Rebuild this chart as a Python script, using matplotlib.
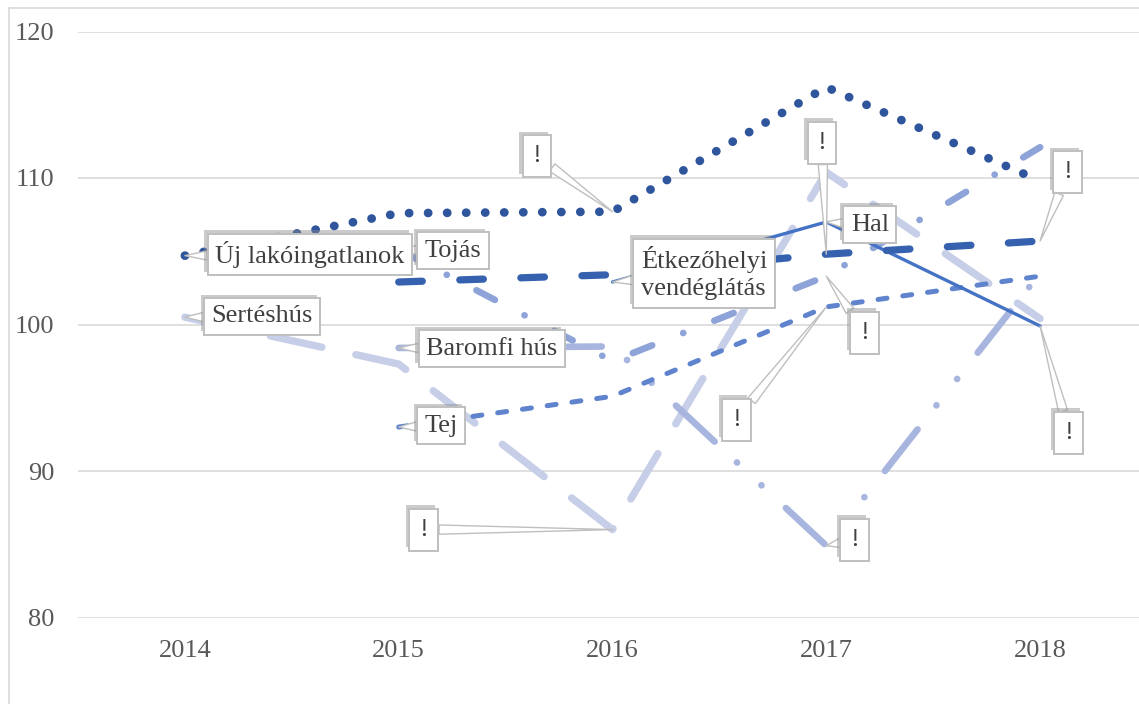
import numpy as np
import matplotlib
matplotlib.use("Agg")
import matplotlib.pyplot as plt
import matplotlib.patheffects as pe
from matplotlib.lines import Line2D

plt.rcParams['font.family'] = ['Liberation Serif', 'DejaVu Serif']
plt.rcParams['lines.scale_dashes'] = False

# Data (price indices)
years = ['2014', '2015', '2016', '2017', '2018']
nan = np.nan
uj_lakoingatlanok = [104.7, 107.6, 107.7, 116.2, 109.8]
hal = [nan, 102.9, 103.4, 104.8, 105.7]
etkezohelyi = [nan, nan, 102.9, 107.0, 99.9]
tej = [nan, 93.0, 95.1, 101.2, 103.3]
tojas = [nan, 105.1, 97.5, 103.3, 112.1]
baromfi_hus = [nan, 98.4, 98.5, 84.9, 103.5]
serteshus = [100.5, 97.3, 86.0, 110.4, 100.4]
y_ticks = [80, 90, 100, 110, 120]

fig = plt.figure(figsize=(11.39, 7.04), dpi=100)
ax = fig.add_axes([78 / 1139, 1 - 617.5 / 704, 1069 / 1139, 586 / 704])

x = np.arange(len(years))

# back to front
series = [
    (serteshus, '#C6CEE8', 5.3, (0, (38, 25))),
    (baromfi_hus, '#A8B6DF', 4.8, (0, (38, 22, 0.1, 24, 0.1, 24))),
    (tojas, '#8EA3D8', 4.8, (0, (15, 24, 0.1, 24))),
    (tej, '#5F83CD', 3.6, (0, (6.5, 11.5))),
    (etkezohelyi, '#4472C4', 2.4, '-'),
    (hal, '#3561AE', 5.2, (0, (17, 27))),
    (uj_lakoingatlanok, '#2F559D', 6.3, (0, (0.1, 13.6))),
]
for i, (vals, col, lw, ls) in enumerate(series):
    ax.plot(x, vals, color=col, lw=lw, linestyle=ls, dash_capstyle='round',
            solid_capstyle='round', dash_joinstyle='round',
            solid_joinstyle='round', zorder=3 + i)

ax.set_xlim(-0.5, 4.5)
ax.set_ylim(80, 120)
ax.set_xticks(x)
ax.set_xticklabels(years)
ax.set_yticks(y_ticks)
ax.tick_params(axis='both', length=0, labelsize=19, labelcolor='#595959')
ax.tick_params(axis='y', pad=17)
ax.tick_params(axis='x', pad=16)
ax.grid(axis='y', color='#D9D9D9', lw=1.2)
ax.set_axisbelow(True)
for s in ax.spines.values():
    s.set_visible(False)

shadow = [pe.SimplePatchShadow(offset=(-2.5, 2.5), shadow_rgbFace='#8C8C8C', alpha=0.45),
          pe.Normal()]


def callout(text, vals, i, tx, ty, z=20, pad=0.28, **kw):
    ann = ax.annotate(text, xy=(i, vals[i]), xytext=(tx, ty), textcoords='data',
                      ha='center', va='center', fontsize=19, color='#404040', zorder=z,
                      bbox=dict(boxstyle=f'square,pad={pad}', fc='white', ec='#BFBFBF', lw=1.4),
                      arrowprops=dict(arrowstyle='wedge,tail_width=0.35,shrink_factor=0.5',
                                      fc='white', ec='#BFBFBF', lw=1.0,
                                      shrinkA=0, shrinkB=0),
                      **kw)
    ann.get_bbox_patch().set_path_effects(shadow)
    return ann


# series name labels
callout('Tojás', tojas, 1, 1.254, 105.05, z=20)
callout('Új lakóingatlanok', uj_lakoingatlanok, 0, 0.585, 104.78, z=21)
callout('Sertéshús', serteshus, 0, 0.361, 100.55)
callout('Baromfi hús', baromfi_hus, 1, 1.436, 98.36)
callout('Tej', tej, 1, 1.198, 93.1)
callout('Étkezőhelyi\nvendéglátás', etkezohelyi, 2, 2.428, 103.5,
        multialignment='left', linespacing=1.3)
callout('Hal', etkezohelyi, 3, 3.204, 106.8)

# "!" callouts
bang = dict(pad=0.38)
callout('!', uj_lakoingatlanok, 2, 1.647, 111.47, **bang)
callout('!', hal, 3, 2.98, 112.4, **bang)
callout('!', hal, 4, 4.13, 110.4, **bang)
callout('!', tojas, 3, 3.18, 99.45, **bang)
callout('!', tej, 3, 2.58, 93.5, **bang)
callout('!', etkezohelyi, 4, 4.135, 92.6, **bang)
callout('!', baromfi_hus, 3, 3.134, 85.3, **bang)
callout('!', serteshus, 2, 1.118, 86.0, **bang)

# chart border (left and top edges visible)
fig.add_artist(Line2D([8.5 / 1139, 8.5 / 1139], [0, 1 - 8 / 704], color='#D9D9D9', lw=1.2))
fig.add_artist(Line2D([8.5 / 1139, 1], [1 - 8 / 704, 1 - 8 / 704], color='#D9D9D9', lw=1.2))

fig.savefig('out.png', dpi=100)
